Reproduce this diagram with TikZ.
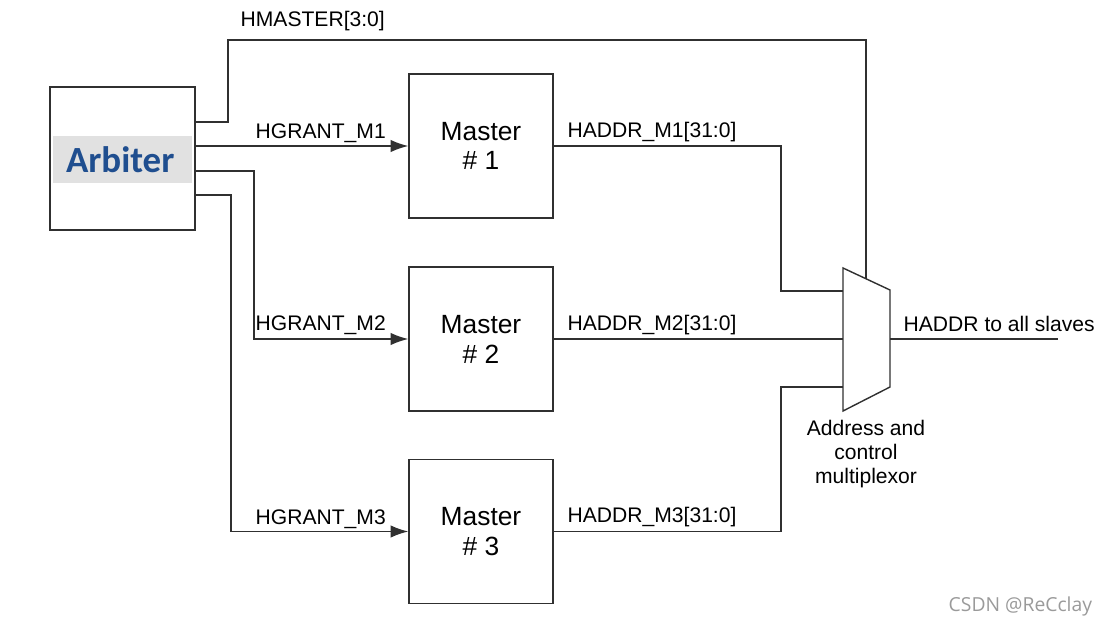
\documentclass[tikz,border=0pt]{standalone}
\usepackage{fontspec}
\setmainfont{Liberation Sans}
\newfontfamily\arbfont{Carlito}
\newfontfamily\markfont{Open Sans}
\usepackage{xcolor}
\usetikzlibrary{arrows.meta}
\definecolor{arb-blue}{HTML}{1F4E8F}
\definecolor{arb-grey}{HTML}{E1E1E1}
\definecolor{mark-grey}{HTML}{9A9A9A}
\definecolor{wire}{HTML}{303030}

\begin{document}
\begin{tikzpicture}[x=0.02cm, y=-0.02cm, line width=0.8pt, draw=wire,
        every node/.style={font=\fontsize{12}{13.6}\selectfont},
        >={Latex[length=10pt,width=7pt]}]
      \useasboundingbox (0,0) rectangle (1106,625);
      \node[draw=wire, minimum width=2.9cm, minimum height=2.86cm] (arbiter) at (122.5,158.5) {};
      \node[fill=arb-grey, inner xsep=0.26cm, text width=2.26cm, align=left,
            minimum height=0.94cm, text=arb-blue,
            font=\arbfont\bfseries\fontsize{21}{24}\selectfont] (arblabel) at (122.5,159.5) {Arbiter};
      \node[draw=wire, minimum width=2.88cm, minimum height=2.88cm, align=center,
            font=\fontsize{15}{17}\selectfont] (M1) at (481,146) {Master\\\# 1};
      \node[draw=wire, minimum width=2.88cm, minimum height=2.88cm, align=center,
            font=\fontsize{15}{17}\selectfont] (M2) at (481,339) {Master\\\# 2};
      \node[draw=wire, minimum width=2.88cm, minimum height=2.88cm, align=center,
            font=\fontsize{15}{17}\selectfont] (M3) at (481,531.5) {Master\\\# 3};
      \draw (843,268) -- (890,290) -- (890,387) -- (843,411) -- cycle;
      \coordinate (muxsel) at (866,279);
      \coordinate (muxin1) at (843,291);
      \coordinate (muxin2) at (843,339);
      \coordinate (muxin3) at (843,387);
      \coordinate (muxout) at (890,339);
      \coordinate (slaves) at (1058,339);
      \draw (arbiter.east |- 0,122) -| (228,40) -| (muxsel);
      \draw[->] (arbiter.east |- M1) -- (M1.west);
      \draw[->] (arbiter.east |- 0,171) -| (254,339) -- (M2.west);
      \draw[->] (arbiter.east |- 0,195) -| (231,531.5) -- (M3.west);
      \draw (M1.east) -| (781,291) -- (muxin1);
      \draw (M2.east) -- (muxin2);
      \draw (M3.east) -| (781,387) -- (muxin3);
      \draw (muxout) -- (slaves);
      \node[anchor=base west, inner sep=0] (lblhmaster) at (240,27) {HMASTER[3:0]};
      \node[anchor=base west, inner sep=0] (lblgrant1) at (255,138) {HGRANT\_M1};
      \node[anchor=base west, inner sep=0] (lblgrant2) at (255,330) {HGRANT\_M2};
      \node[anchor=base west, inner sep=0] (lblgrant3) at (255,524) {HGRANT\_M3};
      \node[anchor=base west, inner sep=0] (lbladdr1) at (567,137) {HADDR\_M1[31:0]};
      \node[anchor=base west, inner sep=0] (lbladdr2) at (567,330) {HADDR\_M2[31:0]};
      \node[anchor=base west, inner sep=0] (lbladdr3) at (567,522) {HADDR\_M3[31:0]};
      \node[anchor=base west, inner sep=0] (lblslaves) at (903,331) {HADDR to all slaves};
      \node[anchor=north, inner sep=0, align=center] (lblmux) at (866,420) {Address and\\control\\multiplexor};
      \node[anchor=base west, inner sep=0, text=mark-grey,
            font=\markfont\fontsize{11}{13}\selectfont] (csdn) at (948,611) {CSDN @ReCclay};
    \end{tikzpicture}
\end{document}
